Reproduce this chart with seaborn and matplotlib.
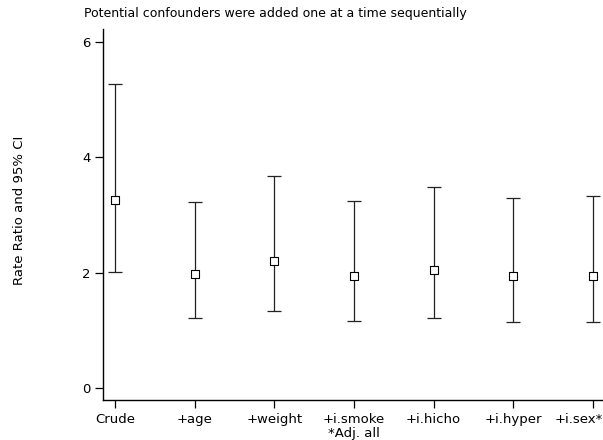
import matplotlib
matplotlib.use("Agg")
import matplotlib.pyplot as plt
import matplotlib.transforms as mtransforms
import seaborn as sns
import pandas as pd

categories = ["Crude", "+age", "+weight", "+i.smoke", "+i.hicho", "+i.hyper", "+i.sex*"]
tick_labels = ["Crude", "+age", "+weight", "+i.smoke\n*Adj. all", "+i.hicho", "+i.hyper", "+i.sex*"]
rate_ratio = [3.26, 1.98, 2.21, 1.94, 2.05, 1.94, 1.95]
ci_lower = [2.02, 1.21, 1.33, 1.16, 1.21, 1.14, 1.15]
ci_upper = [5.27, 3.23, 3.68, 3.25, 3.48, 3.30, 3.33]
y_ticks = [0, 2, 4, 6]

df = pd.DataFrame({"model": categories, "rr": rate_ratio,
                   "lo": ci_lower, "hi": ci_upper})

sns.set_theme(style="ticks")
plt.rcParams["font.family"] = ["DejaVu Sans"]
plt.rcParams["text.color"] = "black"

fig = plt.figure(figsize=(6.03, 4.40), dpi=100)
ax = fig.add_axes([103/603, 40/440, 500/603, 371/440])

ax.errorbar(df["model"], df["rr"],
            yerr=[df["rr"] - df["lo"], df["hi"] - df["rr"]],
            fmt="none", ecolor="#222222", elinewidth=0.9, capsize=5, capthick=0.9)
sns.scatterplot(data=df, x="model", y="rr", ax=ax, marker="s", s=30,
                facecolor="white", edgecolor="black", linewidth=0.8, zorder=3)

ax.set_xlim(-0.15, 6.125)
ax.set_ylim(-0.208, 6.225)
ax.set_yticks(y_ticks)
ax.set_yticklabels([str(t) for t in y_ticks])
ax.set_xticks(range(len(categories)))
ax.set_xticklabels(tick_labels, linespacing=1.1)
ax.tick_params(axis="both", length=6, width=0.9, labelsize=9.5, colors="black",
               direction="out", pad=3)
ax.set_xlabel("")
ax.set_ylabel("Rate Ratio and 95% CI", fontsize=9.5, color="black")
ax.yaxis.set_label_coords((26 - 103) / 500, (230 - 40) / 371)
for s in ["top", "right"]:
    ax.spines[s].set_visible(False)
for s in ["left", "bottom"]:
    ax.spines[s].set_linewidth(1.0)
    ax.spines[s].set_color("black")

# keep the last tick label inside the figure (right-aligned at the edge)
last = ax.get_xticklabels()[-1]
last.set_ha("right")
last.set_transform(last.get_transform() +
                   mtransforms.ScaledTranslation(10/100, 0, fig.dpi_scale_trans))

fig.text(275/603, 1 - 13/440, "Potential confounders were added one at a time sequentially",
         ha="center", va="center", fontsize=9, color="black")

fig.savefig("out.png", dpi=100)
